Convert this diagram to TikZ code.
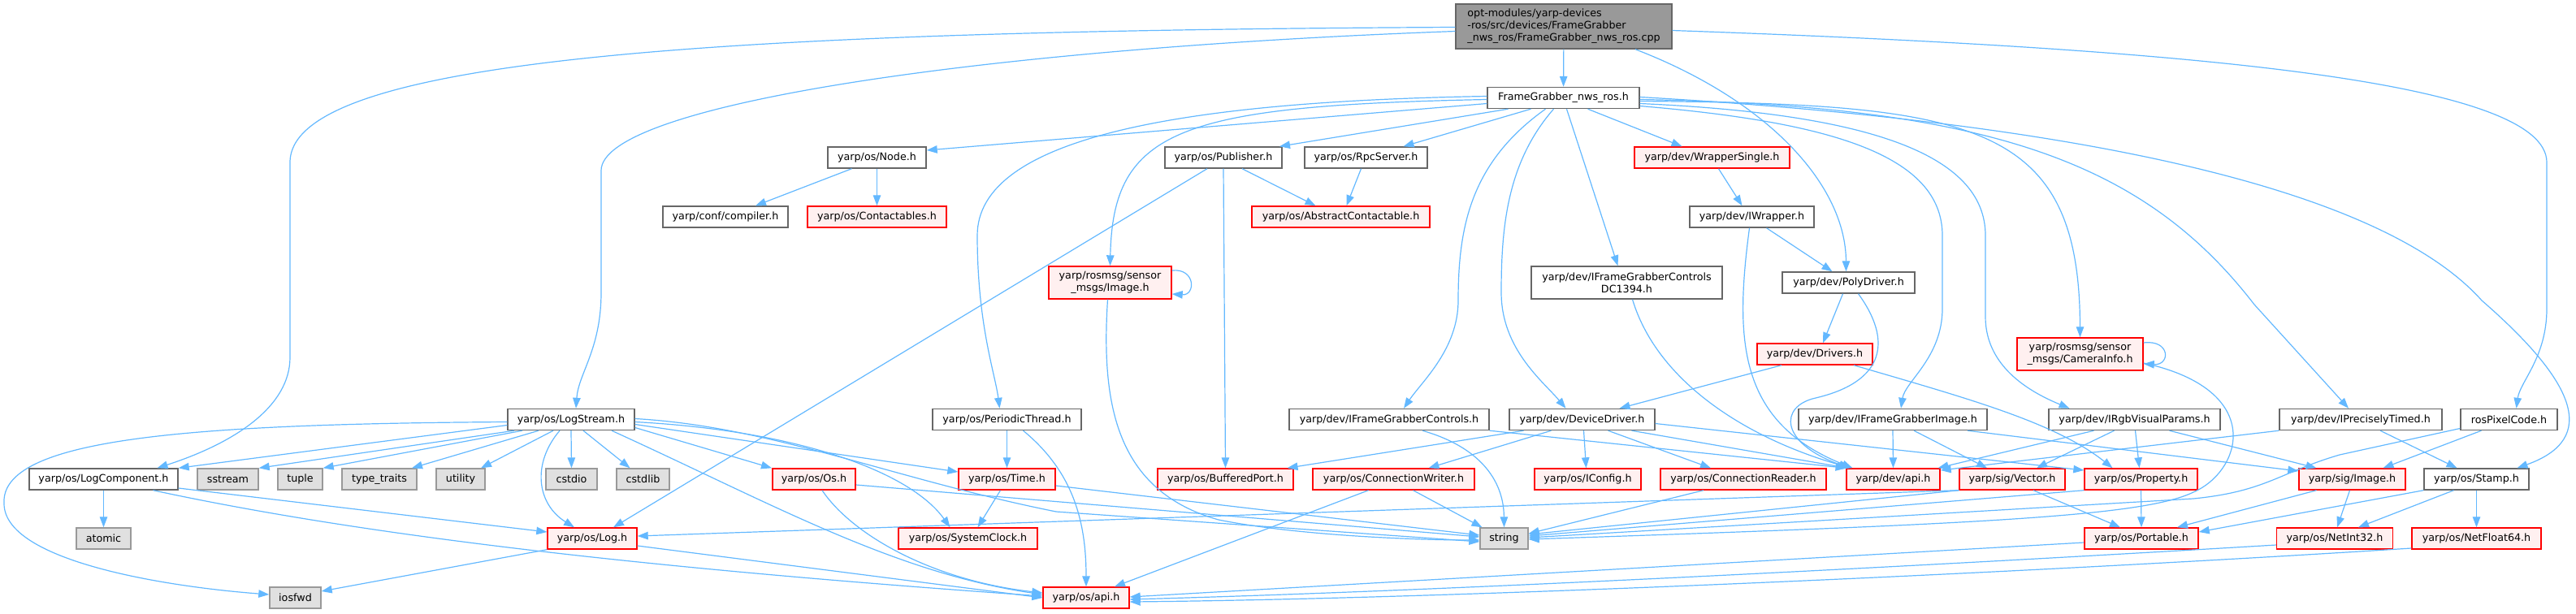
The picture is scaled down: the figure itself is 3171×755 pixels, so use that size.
\documentclass[tikz,border=0pt]{standalone}
\usepackage{fontspec}
\setmainfont{DejaVu Sans}
\usetikzlibrary{arrows.meta}
\definecolor{edgec}{HTML}{63B8FF}
\definecolor{nborder}{HTML}{666666}
\definecolor{rborder}{HTML}{FF0000}
\definecolor{rfill}{HTML}{FFF0F0}
\definecolor{sfill}{HTML}{E0E0E0}
\definecolor{sborder}{HTML}{999999}
\definecolor{rootfill}{HTML}{999999}
\newcommand{\nodefont}{\fontsize{12.7pt}{15pt}\selectfont}
\tikzset{
  boxbase/.style={rectangle, line width=1.4pt, minimum height=26pt, inner sep=0pt, font=\nodefont, text=black, align=center},
  nd/.style={boxbase, draw=nborder, fill=white},
  rd/.style={boxbase, draw=rborder, fill=rfill},
  sd/.style={boxbase, draw=sborder, fill=sfill},
  rt/.style={boxbase, draw=nborder, fill=rootfill, align=left},
  ed/.style={draw=edgec, line width=1.2pt, -{Triangle[length=13pt,width=9.5pt]}},
}
\begin{document}
\begin{tikzpicture}[x=1pt,y=-1pt]
\useasboundingbox (0,0) rectangle (3171,755);
% ---------- edges first (drawn under nodes) ----------
\begin{scope}[on background layer/.style={}]
\end{scope}
% nodes
\node[rt, minimum width=266pt, minimum height=55pt] (root) at (1925,32.5) {opt-modules/yarp-devices\\-ros/src/devices/FrameGrabber\\\_nws\_ros/FrameGrabber\_nws\_ros.cpp};
\node[nd, minimum width=187pt] (fgnws) at (1924.5,120.5) {FrameGrabber\_nws\_ros.h};
\node[nd, minimum width=121pt] (node) at (1079.5,194) {yarp/os/Node.h};
\node[nd, minimum width=154pt] (compiler) at (893,267) {yarp/conf/compiler.h};
\node[rd, minimum width=171pt] (contactables) at (1079.5,267) {yarp/os/Contactables.h};
\node[nd, minimum width=144pt] (publisher) at (1506,194) {yarp/os/Publisher.h};
\node[rd, minimum width=151pt, minimum height=40pt] (rosimage) at (1366.5,348) {yarp/rosmsg/sensor\\\_msgs/Image.h};
\node[nd, minimum width=151pt] (rpcserver) at (1681.5,194) {yarp/os/RpcServer.h};
\node[rd, minimum width=219pt] (abscont) at (1650.5,267) {yarp/os/AbstractContactable.h};
\node[rd, minimum width=191pt] (wrappersingle) at (2107.5,194) {yarp/dev/WrapperSingle.h};
\node[nd, minimum width=153pt] (iwrapper) at (2156.5,267) {yarp/dev/IWrapper.h};
\node[nd, minimum width=235pt, minimum height=40pt] (dc1394) at (2002.5,348) {yarp/dev/IFrameGrabberControls\\DC1394.h};
\node[nd, minimum width=163pt] (polydriver) at (2275.5,348) {yarp/dev/PolyDriver.h};
\node[rd, minimum width=142pt] (drivers) at (2234,436) {yarp/dev/Drivers.h};
\node[rd, minimum width=155pt, minimum height=40pt] (camerainfo) at (2560.5,436) {yarp/rosmsg/sensor\\\_msgs/CameraInfo.h};
\node[nd, minimum width=156pt] (logstream) at (703,516.5) {yarp/os/LogStream.h};
\node[nd, minimum width=183pt] (periodic) at (1239.5,516.5) {yarp/os/PeriodicThread.h};
\node[nd, minimum width=246pt] (ifgcontrols) at (1710,516.5) {yarp/dev/IFrameGrabberControls.h};
\node[nd, minimum width=179pt] (devicedriver) at (1947.5,516.5) {yarp/dev/DeviceDriver.h};
\node[nd, minimum width=232pt] (ifgimage) at (2330,516.5) {yarp/dev/IFrameGrabberImage.h};
\node[nd, minimum width=211pt] (irgb) at (2627.5,516.5) {yarp/dev/IRgbVisualParams.h};
\node[nd, minimum width=200pt] (iprecisely) at (2906,516.5) {yarp/dev/IPreciselyTimed.h};
\node[nd, minimum width=119pt] (rospixel) at (3088.5,516.5) {rosPixelCode.h};
\node[nd, minimum width=183pt] (logcomponent) at (127.5,590) {yarp/os/LogComponent.h};
\node[sd, minimum width=75pt] (sstream) at (280.5,590) {sstream};
\node[sd, minimum width=55pt] (tuple) at (369.5,590) {tuple};
\node[sd, minimum width=92pt] (typetraits) at (467,590) {type\_traits};
\node[sd, minimum width=60pt] (utility) at (567,590) {utility};
\node[sd, minimum width=63pt] (cstdio) at (703.5,590) {cstdio};
\node[sd, minimum width=65pt] (cstdlib) at (791.5,590) {cstdlib};
\node[rd, minimum width=102pt] (os) at (1002,590) {yarp/os/Os.h};
\node[rd, minimum width=119pt] (time) at (1239.5,590) {yarp/os/Time.h};
\node[rd, minimum width=167pt] (bufferedport) at (1508.5,590) {yarp/os/BufferedPort.h};
\node[rd, minimum width=199pt] (connwriter) at (1715.5,590) {yarp/os/ConnectionWriter.h};
\node[rd, minimum width=131pt] (iconfig) at (1954.5,590) {yarp/os/IConfig.h};
\node[rd, minimum width=204pt] (connreader) at (2146,590) {yarp/os/ConnectionReader.h};
\node[rd, minimum width=115pt] (devapi) at (2330.5,590) {yarp/dev/api.h};
\node[rd, minimum width=130pt] (vector) at (2477,590) {yarp/sig/Vector.h};
\node[rd, minimum width=139pt] (property) at (2635.5,590) {yarp/os/Property.h};
\node[rd, minimum width=131pt] (image) at (2895.5,590) {yarp/sig/Image.h};
\node[nd, minimum width=129pt] (stamp) at (3048.5,590) {yarp/os/Stamp.h};
\node[sd, minimum width=67pt] (atomic) at (127.5,663) {atomic};
\node[rd, minimum width=110pt] (log) at (729,663) {yarp/os/Log.h};
\node[rd, minimum width=171pt] (systemclock) at (1191.5,663) {yarp/os/SystemClock.h};
\node[sd, minimum width=59pt] (string) at (1851.5,663) {string};
\node[rd, minimum width=140pt] (portable) at (2636,663) {yarp/os/Portable.h};
\node[rd, minimum width=143pt] (netint32) at (2874,663) {yarp/os/NetInt32.h};
\node[rd, minimum width=159pt] (netfloat64) at (3048.5,663) {yarp/os/NetFloat64.h};
\node[sd, minimum width=63pt] (iosfwd) at (363.5,736) {iosfwd};
\node[rd, minimum width=106pt] (osapi) at (1337,736) {yarp/os/api.h};

% ---------- root ----------
\draw[ed] (root) -- (fgnws);
\draw[ed] ([yshift=-1pt]root.west) .. controls (900,38) and (357,70) .. (357,200) -- (357,440) .. controls (357,500) and (290,545) .. ([xshift=66pt]logcomponent.north);
\draw[ed] ([yshift=-6pt]root.west) .. controls (1200,60) and (740,130) .. (740,210) -- (740,360) .. controls (740,430) and (712,460) .. ([xshift=6pt]logstream.north);
\draw[ed] ([xshift=88pt]root.south) .. controls (2180,125) and (2272,230) .. ([xshift=-3pt]polydriver.north);
\draw[ed] ([yshift=-5pt]root.east) .. controls (2700,60) and (3135,100) .. (3135,200) -- (3135,380) .. controls (3135,440) and (3102,470) .. ([xshift=9pt]rospixel.north);

% ---------- FrameGrabber_nws_ros.h ----------
\draw[ed] ([yshift=-7pt]fgnws.west) -- ([yshift=9pt]node.east);
\draw[ed] ([xshift=-68pt]fgnws.south) -- ([xshift=69pt]publisher.north);
\draw[ed] ([xshift=-40pt]fgnws.south) -- ([xshift=46pt]rpcserver.north);
\draw[ed] ([yshift=-2pt]fgnws.west) .. controls (1450,130) and (1370,160) .. (rosimage.north);
\draw[ed] ([yshift=2pt]fgnws.west) .. controls (1450,125) and (1203,170) .. (1203,290) .. controls (1203,400) and (1225,460) .. ([xshift=-9pt]periodic.north);
\draw[ed] ([xshift=-22pt]fgnws.south) .. controls (1810,200) and (1795,280) .. (1795,370) .. controls (1795,430) and (1750,470) .. ([xshift=18pt]ifgcontrols.north);
\draw[ed] ([xshift=-12pt]fgnws.south) .. controls (1855,200) and (1848,280) .. (1848,360) .. controls (1848,430) and (1900,470) .. ([xshift=-20pt]devicedriver.north);
\draw[ed] ([xshift=4pt]fgnws.south) -- ([xshift=-11pt]dc1394.north);
\draw[ed] ([xshift=30pt]fgnws.south) -- ([xshift=-37pt]wrappersingle.north);
\draw[ed] ([yshift=-10pt]fgnws.east) .. controls (2250,150) and (2391,190) .. (2391,290) -- (2391,380) .. controls (2391,440) and (2345,470) .. ([xshift=10pt]ifgimage.north);
\draw[ed] ([yshift=-7pt]fgnws.east) .. controls (2300,140) and (2444,190) .. (2444,290) -- (2444,390) .. controls (2444,440) and (2480,475) .. ([xshift=-80pt]irgb.north);
\draw[ed] ([yshift=-4pt]fgnws.east) .. controls (2430,128) and (2560,150) .. (camerainfo.north);
\draw[ed] ([yshift=-2pt]fgnws.east) .. controls (2450,130) and (2640,200) .. (2775,375) -- ([xshift=-15pt]iprecisely.north);
\draw[ed] ([yshift=1pt]fgnws.east) .. controls (2550,150) and (2930,230) .. (3055,370) .. controls (3170,470) and (3200,540) .. ([xshift=50pt]stamp.north);

% ---------- second level ----------
\draw[ed] ([xshift=-31pt]node.south) -- ([xshift=37pt]compiler.north);
\draw[ed] (node.south) -- (contactables.north);
\draw[ed] ([xshift=23pt]publisher.south) -- ([xshift=-31pt]abscont.north);
\draw[ed] (publisher.south) -- (bufferedport.north);
\draw[ed] ([xshift=-20pt]publisher.south) -- ([xshift=26pt]log.north);
\draw[ed] ([xshift=-6pt]rpcserver.south) -- ([xshift=7pt]abscont.north);
\draw[ed] ([xshift=8pt]wrappersingle.south) -- ([xshift=-12pt]iwrapper.north);
\draw[ed] ([xshift=18pt]iwrapper.south) -- ([xshift=-20pt]polydriver.north);
\draw[ed] ([xshift=-3pt]iwrapper.south) .. controls (2135,420) and (2140,520) .. ([xshift=-50pt]devapi.north);
\draw[ed] ([xshift=7pt]dc1394.south) .. controls (2040,470) and (2150,540) .. ([xshift=-52pt]devapi.north);
\draw[ed] ([xshift=-7pt]polydriver.south) -- ([xshift=10pt]drivers.north);
\draw[ed] ([xshift=12pt]polydriver.south) .. controls (2330,420) and (2320,470) .. (2235,490) .. controls (2190,500) and (2190,545) .. ([xshift=-54pt]devapi.north);
\draw[ed] ([xshift=-41pt]drivers.south) -- ([xshift=46pt]devicedriver.north);
\draw[ed] ([xshift=48pt]drivers.south) .. controls (2420,490) and (2530,520) .. ([xshift=-35pt]property.north);

% rosmsg headers
\draw[ed] ([yshift=15pt]rosimage.east) .. controls (1472,330) and (1472,364) .. ([yshift=-14pt]rosimage.east);
\draw[ed] ([xshift=-3pt]rosimage.south) .. controls (1355,500) and (1375,605) .. (1500,640) .. controls (1600,660) and (1750,665) .. ([yshift=-2pt]string.west);
\draw[ed] ([yshift=14pt]camerainfo.east) .. controls (2672,418) and (2672,450) .. ([yshift=-12pt]camerainfo.east);
\draw[ed] ([yshift=-11pt]camerainfo.east) .. controls (2790,480) and (2760,580) .. (2700,606) .. controls (2640,635) and (2450,645) .. ([yshift=-1pt]string.east);

% PeriodicThread
\draw[ed] (periodic.south) -- (time.north);
\draw[ed] ([xshift=20pt]periodic.south) .. controls (1320,580) and (1337,640) .. (osapi.north);

% IFrameGrabberControls
\draw[ed] ([xshift=41pt]ifgcontrols.south) .. controls (1820,550) and (1851,590) .. (string.north);
\draw[ed] (ifgcontrols.south east) -- ([xshift=-58pt]devapi.north);

% DeviceDriver
\draw[ed] ([xshift=-72pt]devicedriver.south) -- ([xshift=76pt]bufferedport.north);
\draw[ed] ([xshift=-38pt]devicedriver.south) -- ([xshift=43pt]connwriter.north);
\draw[ed] ([xshift=2pt]devicedriver.south) -- ([xshift=-2pt]iconfig.north);
\draw[ed] ([xshift=32pt]devicedriver.south) -- ([xshift=-40pt]connreader.north);
\draw[ed] ([xshift=61pt]devicedriver.south) -- ([xshift=-56pt]devapi.north);
\draw[ed] ([yshift=-5pt]devicedriver.east) -- ([yshift=11pt]property.west);

% IFrameGrabberImage
\draw[ed] (ifgimage.south) -- (devapi.north);
\draw[ed] ([xshift=26pt]ifgimage.south) -- ([xshift=-31pt]vector.north);
\draw[ed] ([xshift=92pt]ifgimage.south) -- ([yshift=10pt]image.west);

% IRgbVisualParams
\draw[ed] ([xshift=-50pt]irgb.south) -- ([xshift=55pt]devapi.north);
\draw[ed] ([xshift=-25pt]irgb.south) -- ([xshift=30pt]vector.north);
\draw[ed] ([xshift=1pt]irgb.south) -- ([xshift=-2pt]property.north);
\draw[ed] ([xshift=43pt]irgb.south) -- ([xshift=-44pt]image.north);

% IPreciselyTimed
\draw[ed] (iprecisely.south west) -- ([yshift=11pt]devapi.east);
\draw[ed] ([xshift=24pt]iprecisely.south) -- ([xshift=-24pt]stamp.north);

% rosPixelCode
\draw[ed] ([yshift=-11pt]rospixel.west) -- (2880,560) .. controls (2805,582) and (2790,605) .. (2700,614) -- ([yshift=1pt]string.east);
\draw[ed] ([xshift=-34pt]rospixel.south) -- ([xshift=38pt]image.north);

% ConnectionWriter / Reader
\draw[ed] ([xshift=24pt]connwriter.south) -- ([xshift=-27pt]string.north);
\draw[ed] ([xshift=-31pt]connwriter.south) -- ([xshift=35pt]osapi.north);
\draw[ed] ([xshift=-49pt]connreader.south) -- ([yshift=6pt]string.east);

% Vector, Property, Image, Stamp
\draw[ed] (vector.south west) -- ([yshift=3pt]log.east);
\draw[ed] (vector.south west) -- ([yshift=5pt]string.east);
\draw[ed] ([xshift=26pt]vector.south) -- ([xshift=-26pt]portable.north);
\draw[ed] (property.south west) -- ([yshift=3pt]string.east);
\draw[ed] (property.south) -- (portable.north);
\draw[ed] ([xshift=-44pt]image.south) -- ([xshift=44pt]portable.north);
\draw[ed] ([xshift=-3pt]image.south) -- ([xshift=3pt]netint32.north);
\draw[ed] (stamp.south west) -- ([yshift=8pt]portable.east);
\draw[ed] ([xshift=-28pt]stamp.south) -- ([xshift=29pt]netint32.north);
\draw[ed] (stamp.south) -- (netfloat64.north);

% to yarp/os/api.h from right
\draw[ed] ([yshift=-5pt]portable.west) -- ([yshift=1pt]osapi.east);
\draw[ed] ([yshift=-8pt]netint32.west) .. controls (2400,695) and (1800,727) .. ([yshift=-2pt]osapi.east);
\draw[ed] ([yshift=-12pt]netfloat64.west) .. controls (2500,705) and (1800,737) .. ([yshift=-5pt]osapi.east);

% LogStream
\draw[ed] ([yshift=-3pt]logstream.west) .. controls (230,522) and (0,540) .. (5,620) .. controls (5,690) and (200,722) .. ([yshift=4pt]iosfwd.west);
\draw[ed] ([yshift=-7pt]logstream.west) -- (logcomponent.north east);
\draw[ed] ([xshift=-70pt]logstream.south) -- (sstream.north east);
\draw[ed] ([xshift=-60pt]logstream.south) -- (tuple.north east);
\draw[ed] ([xshift=-40pt]logstream.south) -- ([xshift=40pt]typetraits.north);
\draw[ed] ([xshift=-22pt]logstream.south) -- ([xshift=25pt]utility.north);
\draw[ed] ([xshift=-14pt]logstream.south) .. controls (655,570) and (660,620) .. ([xshift=-22pt]log.north);
\draw[ed] (logstream.south) -- (cstdio.north);
\draw[ed] ([xshift=15pt]logstream.south) -- ([xshift=-16pt]cstdlib.north);
\draw[ed] ([yshift=-10pt]logstream.east) -- ([xshift=-52pt]os.north);
\draw[ed] ([yshift=-6pt]logstream.east) -- ([yshift=9pt]time.west);
\draw[ed] ([yshift=-3pt]logstream.east) .. controls (980,530) and (1120,580) .. ([xshift=-22pt]systemclock.north);
\draw[ed] ([yshift=1pt]logstream.east) .. controls (950,525) and (1100,590) .. (1300,630) -- ([yshift=-4pt]string.west);
\draw[ed] ([xshift=50pt]logstream.south) .. controls (950,620) and (1100,705) .. ([yshift=4pt]osapi.west);

% LogComponent, Log, Os, Time
\draw[ed] (logcomponent.south) -- (atomic.north);
\draw[ed] ([yshift=-11pt]logcomponent.east) -- ([yshift=8pt]log.west);
\draw[ed] ([xshift=61pt]logcomponent.south) .. controls (450,660) and (800,700) .. ([yshift=2pt]osapi.west);
\draw[ed] (log.south west) -- ([yshift=8pt]iosfwd.east);
\draw[ed] ([yshift=-9pt]log.east) -- (osapi.west);
\draw[ed] ([xshift=10pt]os.south) .. controls (1050,660) and (1150,715) .. ([yshift=6pt]osapi.west);
\draw[ed] ([yshift=-7pt]os.east) -- ([yshift=2pt]string.west);
\draw[ed] ([xshift=-8pt]time.south) -- ([xshift=12pt]systemclock.north);
\draw[ed] ([yshift=-8pt]time.east) -- ([yshift=4pt]string.west);
\end{tikzpicture}
\end{document}
